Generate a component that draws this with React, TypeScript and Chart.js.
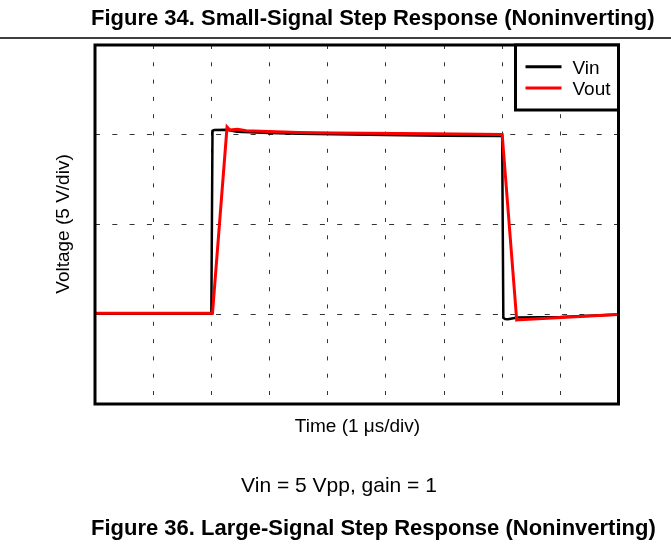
import React, { useEffect, useRef } from 'react';
import { Chart, registerables } from 'chart.js';

Chart.register(...registerables);

// ---- data (time in µs, voltage in V; 5 V/div, 1 µs/div) ----
const timeVin = [0, 2.0, 2.02, 2.05, 2.27, 2.44, 3.0, 3.53, 5.0, 6.0, 7.0, 7.02, 7.05, 7.1, 7.26, 8.0, 9.0];
const vin = [-4.97, -4.97, 5.22, 5.26, 5.28, 5.17, 5.1, 5.05, 4.98, 4.95, 4.93, -5.2, -5.27, -5.28, -5.18, -5.15, -5.01];
const timeVout = [0, 2.02, 2.27, 2.32, 2.45, 2.6, 3.5, 4.1, 5.8, 7.0, 7.25, 7.3, 8.5, 9.0];
const vout = [-4.95, -4.95, 5.43, 5.26, 5.3, 5.22, 5.13, 5.1, 5.05, 5.02, -5.32, -5.3, -5.1, -5.02];
const seriesLabels = ['Vin', 'Vout'];
const seriesColors = ['#000000', '#ff0000'];
const xRange = [0, 9];
const yRange = [-10, 10];
const xStep = 1;
const yStep = 5;

const topTitle = 'Figure 34. Small-Signal Step Response (Noninverting)';
const xTitle = 'Time (1 \u03bcs/div)';
const yTitle = 'Voltage (5 V/div)';
const caption = 'Vin = 5 Vpp, gain = 1';
const bottomTitle = 'Figure 36. Large-Signal Step Response (Noninverting)';

const FONT = '"Liberation Sans", Arial, Helvetica, sans-serif';

const decor = {
  id: 'decor',
  beforeDraw(chart: any) {
    const { ctx, width, height } = chart;
    ctx.save();
    ctx.fillStyle = '#ffffff';
    ctx.fillRect(0, 0, width, height);
    ctx.restore();
  },
  afterDraw(chart: any) {
    const { ctx, chartArea: a, width } = chart;
    ctx.save();
    // separator line under the top title
    ctx.strokeStyle = '#000';
    ctx.lineWidth = 1.5;
    ctx.beginPath();
    ctx.moveTo(0, 38);
    ctx.lineTo(width, 38);
    ctx.stroke();

    // plot frame
    ctx.lineWidth = 3;
    ctx.strokeRect(a.left, a.top, a.right - a.left, a.bottom - a.top);

    // legend
    const lx = a.right - 103;
    const ly = a.top;
    const lh = 65;
    ctx.fillStyle = '#fff';
    ctx.fillRect(lx, ly, a.right - lx, lh);
    ctx.strokeRect(lx, ly, a.right - lx, lh);
    ctx.font = `19px ${FONT}`;
    ctx.textAlign = 'left';
    ctx.textBaseline = 'alphabetic';
    const ds = chart.data.datasets;
    const rows = [{ idx: 0, ly: 21.7, ty: 29.3 }, { idx: 1, ly: 43, ty: 50 }];
    rows.forEach((r) => {
      const d = ds.find((x: any) => x.label === seriesLabels[r.idx]);
      ctx.strokeStyle = d.borderColor;
      ctx.lineWidth = 3;
      ctx.beginPath();
      ctx.moveTo(lx + 10, ly + r.ly);
      ctx.lineTo(lx + 46, ly + r.ly);
      ctx.stroke();
      ctx.fillStyle = '#000';
      ctx.fillText(d.label, lx + 57, ly + r.ty);
    });

    // texts
    ctx.fillStyle = '#000';
    ctx.font = `bold 22px ${FONT}`;
    ctx.textAlign = 'left';
    ctx.fillText(topTitle, 91, 25);
    ctx.fillText(bottomTitle, 91, 535);

    ctx.font = `19px ${FONT}`;
    ctx.textAlign = 'center';
    ctx.fillText(xTitle, 357.5, 432);

    ctx.font = `21px ${FONT}`;
    ctx.fillText(caption, 339, 492);

    ctx.font = `19px ${FONT}`;
    ctx.translate(69, 224);
    ctx.rotate(-Math.PI / 2);
    ctx.textAlign = 'center';
    ctx.fillText(yTitle, 0, 0);
    ctx.restore();
  },
};

export default function App() {
  const ref = useRef<HTMLCanvasElement | null>(null);
  useEffect(() => {
    document.body.style.margin = '0';
    const canvas = ref.current;
    if (!canvas) return;
    const chart = new Chart(canvas, {
      type: 'line',
      data: {
        datasets: [
          {
            label: seriesLabels[0],
            data: timeVin.map((t, i) => ({ x: t, y: vin[i] })),
            borderColor: seriesColors[0],
            backgroundColor: seriesColors[0],
            borderWidth: 2.5,
            pointRadius: 0,
            tension: 0,
            fill: false,
            order: 2,
          },
          {
            label: seriesLabels[1],
            data: timeVout.map((t, i) => ({ x: t, y: vout[i] })),
            borderColor: seriesColors[1],
            backgroundColor: seriesColors[1],
            borderWidth: 3,
            pointRadius: 0,
            tension: 0,
            fill: false,
            order: 1,
          },
        ],
      },
      options: {
        animation: false,
        responsive: false,
        maintainAspectRatio: false,
        devicePixelRatio: 1,
        layout: { padding: { left: 95, top: 45, right: 52.5, bottom: 143 } },
        plugins: {
          legend: { display: false },
          tooltip: { enabled: false },
          title: { display: false },
        },
        scales: {
          x: {
            type: 'linear',
            min: xRange[0],
            max: xRange[1],
            ticks: { display: false, stepSize: xStep },
            grid: { color: '#333', lineWidth: 1, drawTicks: false },
            border: { display: false, dash: [4, 13.3] },
          },
          y: {
            type: 'linear',
            min: yRange[0],
            max: yRange[1],
            ticks: { display: false, stepSize: yStep },
            grid: { color: '#333', lineWidth: 1, drawTicks: false },
            border: { display: false, dash: [5, 12.3] },
          },
        },
      },
      plugins: [decor],
    } as any);
    return () => chart.destroy();
  }, []);
  return <canvas ref={ref} width={671} height={547} style={{ display: 'block' }} />;
}
